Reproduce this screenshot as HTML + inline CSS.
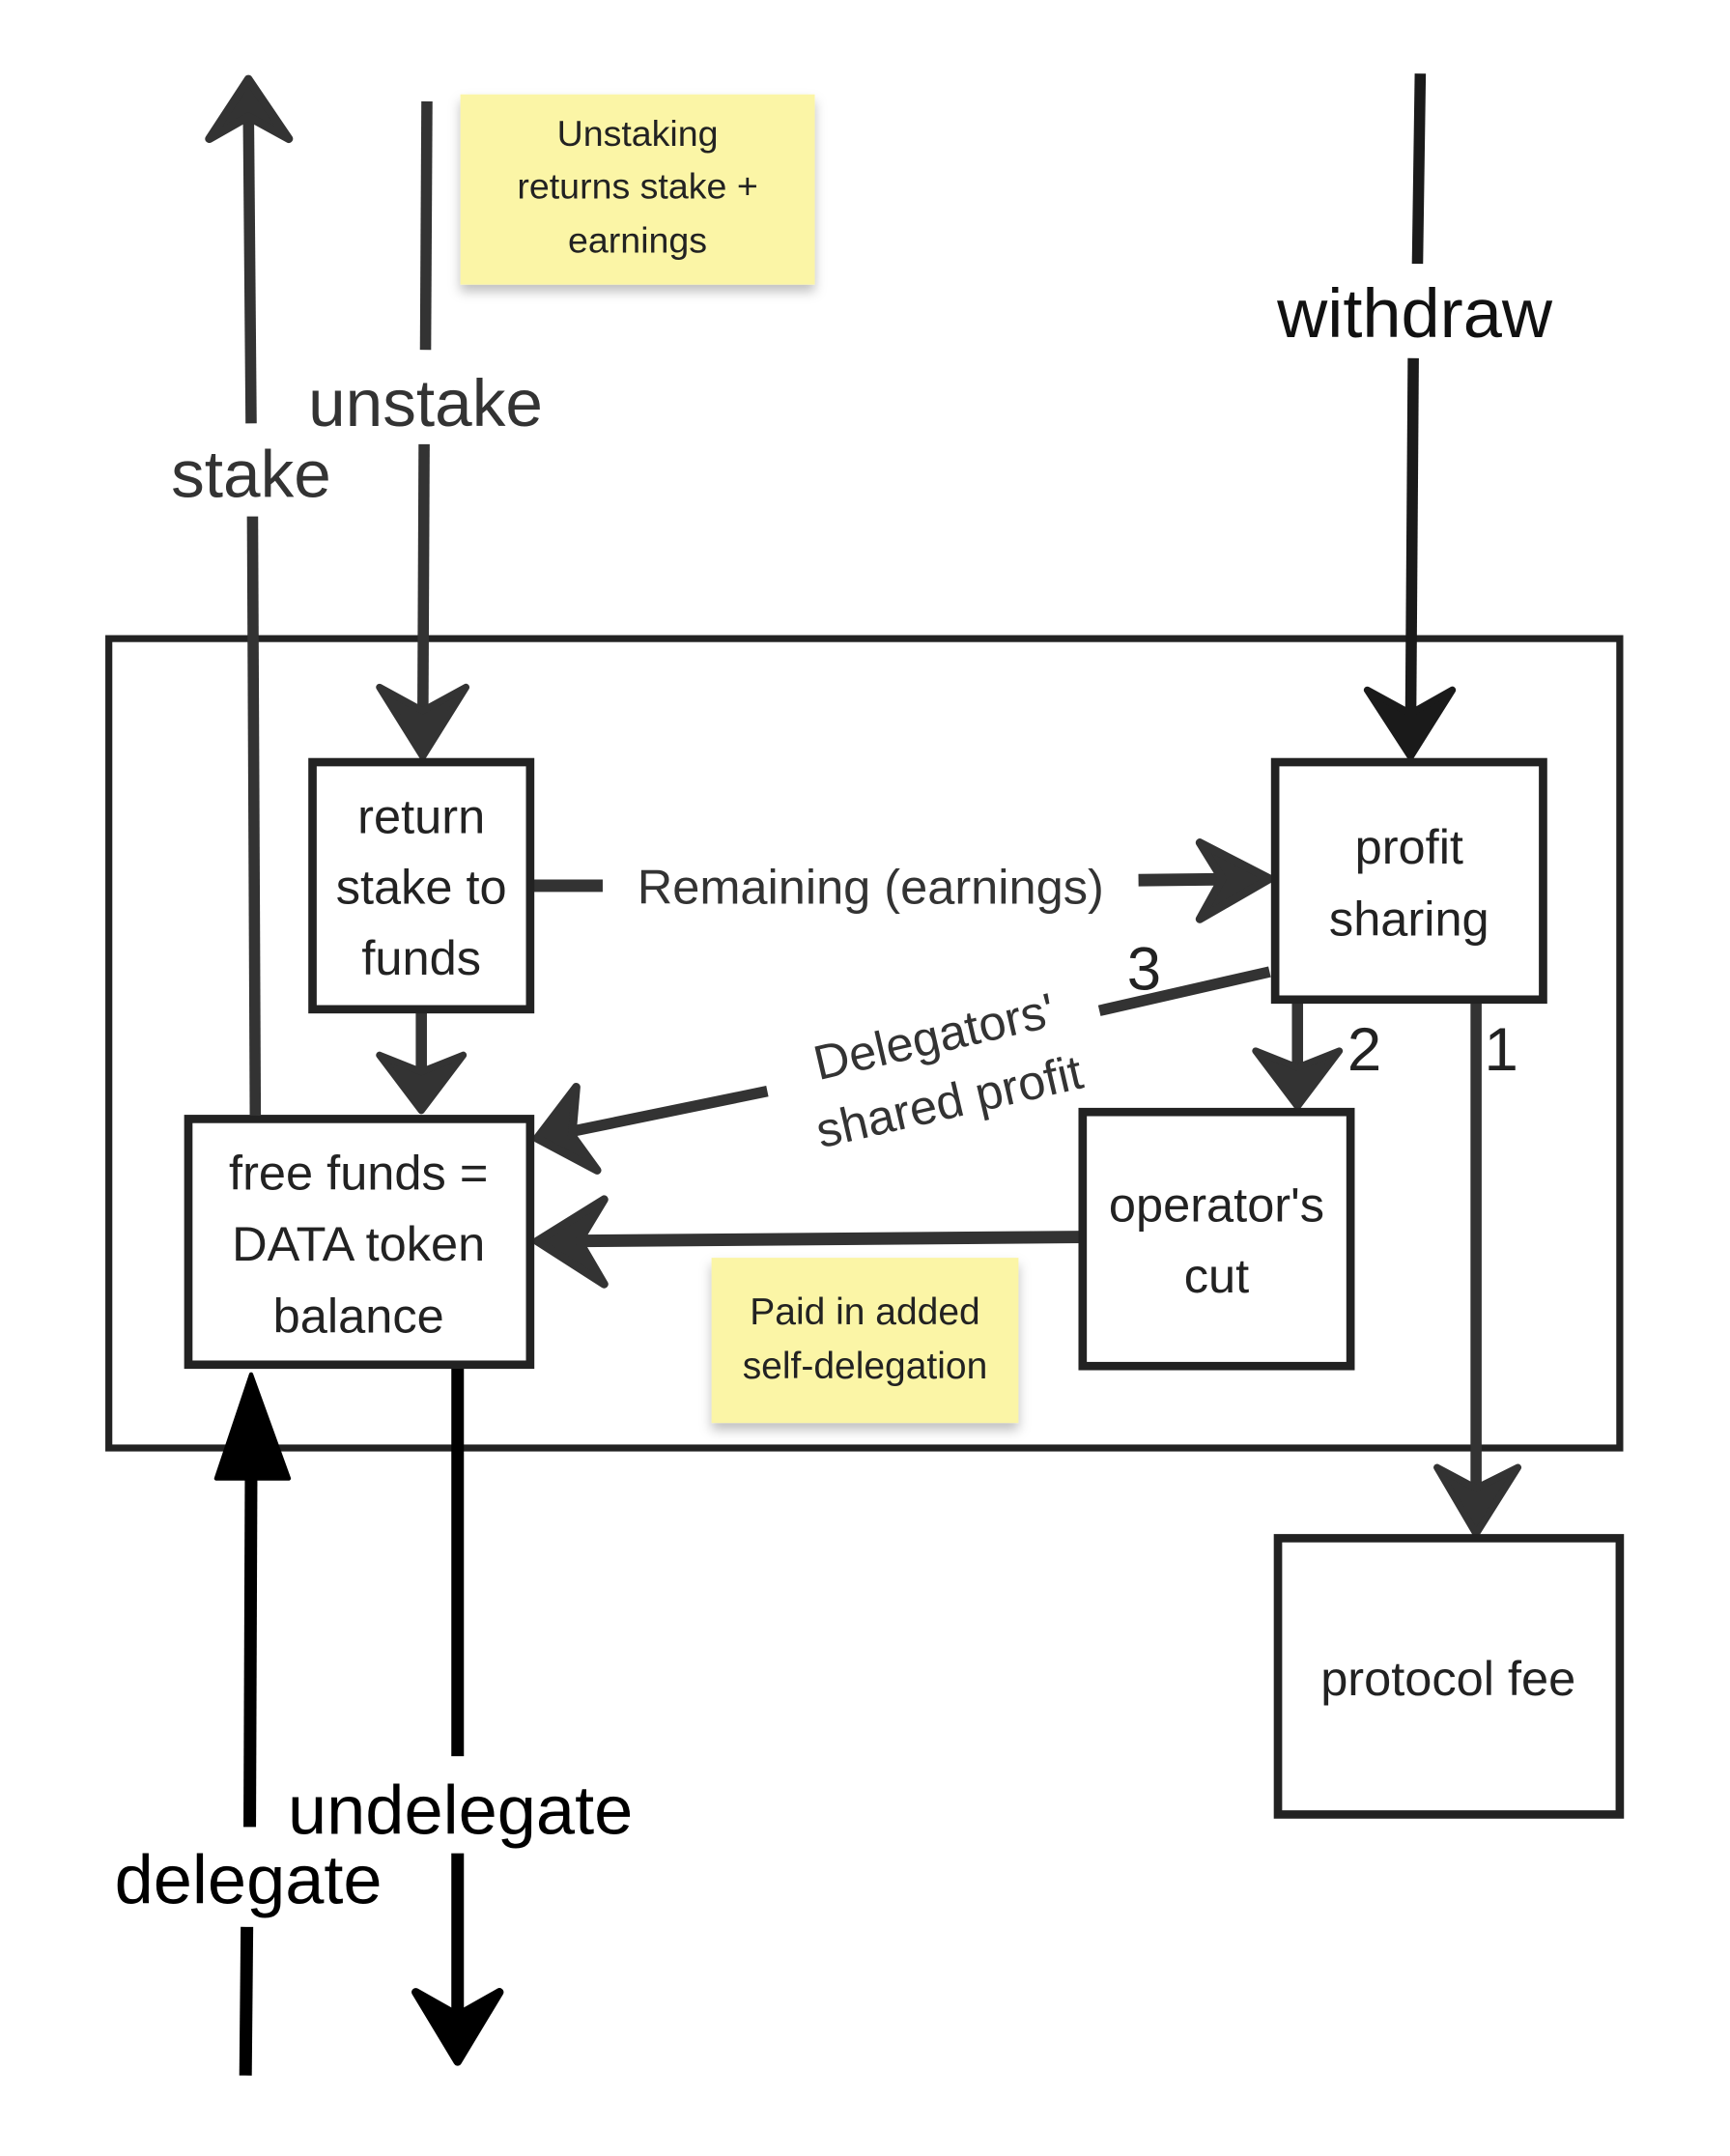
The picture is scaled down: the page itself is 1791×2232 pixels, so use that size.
<!DOCTYPE html>
<html><head><meta charset="utf-8"><style>
html,body{margin:0;padding:0;background:#fff;}
svg{display:block;}
text{font-family:"Liberation Sans",sans-serif;text-anchor:middle;}
</style></head><body>
<svg width="1791" height="2232" viewBox="0 0 1240 1553" preserveAspectRatio="none" xmlns="http://www.w3.org/2000/svg">
<defs><filter id="sh" x="-10%" y="-10%" width="120%" height="130%"><feDropShadow dx="0" dy="5" stdDeviation="4" flood-color="#000" flood-opacity="0.25"/></filter></defs>
<rect width="1240" height="1553" fill="#fff"/>
<rect x="78" y="460" width="1083" height="583" fill="none" stroke="#222" stroke-width="5"/>
<rect x="330" y="68" width="254" height="137" fill="#fbf5a6" filter="url(#sh)"/>
<text x="457" y="105" font-size="26" fill="#222">Unstaking</text>
<text x="457" y="143" font-size="26" fill="#222">returns stake +</text>
<text x="457" y="182" font-size="26" fill="#222">earnings</text>
<rect x="510" y="906" width="220" height="119" fill="#fbf5a6" filter="url(#sh)"/>
<text x="620" y="954" font-size="27" fill="#222">Paid in added</text>
<text x="620" y="993" font-size="27" fill="#222">self-delegation</text>

<g stroke-linecap="butt" fill="none">
<line x1="183" y1="803" x2="181" y2="372" stroke="#333" stroke-width="8"/>
<line x1="180" y1="305" x2="178" y2="70" stroke="#333" stroke-width="8"/>
<path d="M150,100 L178,57 L207,100 L178,84 Z" fill="#333" stroke="#333" stroke-width="6" stroke-linejoin="round"/>
<line x1="306" y1="73" x2="305" y2="252" stroke="#333" stroke-width="8"/>
<line x1="304" y1="320" x2="303" y2="540" stroke="#333" stroke-width="8"/>
<path d="M272,495 L303,545 L334,495 L303,512 Z" fill="#333" stroke="#333" stroke-width="5" stroke-linejoin="round"/>
<line x1="1018" y1="53" x2="1016" y2="190" stroke="#1a1a1a" stroke-width="8"/>
<line x1="1013" y1="258" x2="1011" y2="540" stroke="#1a1a1a" stroke-width="8"/>
<path d="M980,497 L1011,545 L1041,497 L1011,514 Z" fill="#1a1a1a" stroke="#1a1a1a" stroke-width="5" stroke-linejoin="round"/>
<line x1="380" y1="638" x2="432" y2="638" stroke="#333" stroke-width="9"/>
<line x1="816" y1="634" x2="905" y2="633" stroke="#333" stroke-width="9"/>
<path d="M860,607 L910,633 L860,662 L876,633 Z" fill="#333" stroke="#333" stroke-width="6" stroke-linejoin="round"/>
<line x1="910" y1="700" x2="788" y2="728" stroke="#333" stroke-width="8"/>
<line x1="550" y1="786" x2="395" y2="818" stroke="#333" stroke-width="8"/>
<path d="M413,783 L385,820 L428,843 L410,818 Z" fill="#333" stroke="#333" stroke-width="6" stroke-linejoin="round"/>
<line x1="302" y1="727" x2="302" y2="790" stroke="#333" stroke-width="8"/>
<path d="M272,760 L302,800 L332,760 L302,772 Z" fill="#333" stroke="#333" stroke-width="5" stroke-linejoin="round"/>
<line x1="776" y1="891" x2="395" y2="894" stroke="#333" stroke-width="9"/>
<path d="M433,864 L385,894 L433,925 L415,894 Z" fill="#333" stroke="#333" stroke-width="6" stroke-linejoin="round"/>
<line x1="930" y1="720" x2="930" y2="785" stroke="#333" stroke-width="8"/>
<path d="M900,757 L930,797 L960,757 L930,769 Z" fill="#333" stroke="#333" stroke-width="5" stroke-linejoin="round"/>
<line x1="1058" y1="720" x2="1058" y2="1095" stroke="#333" stroke-width="8"/>
<path d="M1030,1057 L1058,1105 L1088,1057 L1058,1072 Z" fill="#333" stroke="#333" stroke-width="5" stroke-linejoin="round"/>
<line x1="176" y1="1495" x2="177" y2="1388" stroke="#000" stroke-width="9"/>
<line x1="179" y1="1316" x2="180" y2="1060" stroke="#000" stroke-width="9"/>
<path d="M155,1065 L180,990 L207,1065 Z" fill="#000" stroke="#000" stroke-width="3" stroke-linejoin="round"/>
<line x1="328" y1="983" x2="328" y2="1265" stroke="#000" stroke-width="9"/>
<line x1="328" y1="1335" x2="328" y2="1475" stroke="#000" stroke-width="9"/>
<path d="M298,1435 L328,1485 L358,1435 L328,1452 Z" fill="#000" stroke="#000" stroke-width="6" stroke-linejoin="round"/>
</g>

<rect x="224" y="549" width="156" height="178" fill="#fff" stroke="#222" stroke-width="6"/>
<rect x="914" y="549" width="192" height="171" fill="#fff" stroke="#222" stroke-width="6"/>
<rect x="135" y="806" width="245" height="177" fill="#fff" stroke="#222" stroke-width="6"/>
<rect x="776" y="801" width="192" height="183" fill="#fff" stroke="#222" stroke-width="6"/>
<rect x="916" y="1108" width="245" height="199" fill="#fff" stroke="#222" stroke-width="6"/>

<text x="180" y="358" font-size="48" fill="#333">stake</text>
<text x="305" y="307" font-size="48" fill="#333">unstake</text>
<text x="1014" y="243" font-size="50" fill="#111">withdraw</text>
<text x="302" y="600" font-size="35" fill="#222">return</text>
<text x="302" y="651" font-size="35" fill="#222">stake to</text>
<text x="302" y="702" font-size="35" fill="#222">funds</text>
<text x="1010" y="622" font-size="35" fill="#222">profit</text>
<text x="1010" y="674" font-size="35" fill="#222">sharing</text>
<text x="624" y="651" font-size="35" fill="#333">Remaining (earnings)</text>
<g transform="translate(675,770) rotate(-13)">
<text x="0" y="-12" font-size="35" fill="#333">Delegators'</text>
<text x="0" y="36" font-size="35" fill="#333">shared profit</text>
</g>
<text x="820" y="713" font-size="44" fill="#222">3</text>
<text x="978" y="771" font-size="44" fill="#222">2</text>
<text x="1076" y="771" font-size="44" fill="#222">1</text>
<text x="257" y="857" font-size="35" fill="#222">free funds =</text>
<text x="257" y="908" font-size="35" fill="#222">DATA token</text>
<text x="257" y="960" font-size="35" fill="#222">balance</text>
<text x="872" y="880" font-size="35" fill="#222">operator's</text>
<text x="872" y="931" font-size="35" fill="#222">cut</text>
<text x="1038" y="1221" font-size="35" fill="#222">protocol fee</text>
<text x="330" y="1321" font-size="50" fill="#000">undelegate</text>
<text x="178" y="1371" font-size="50" fill="#000">delegate</text>
</svg>
</body></html>
